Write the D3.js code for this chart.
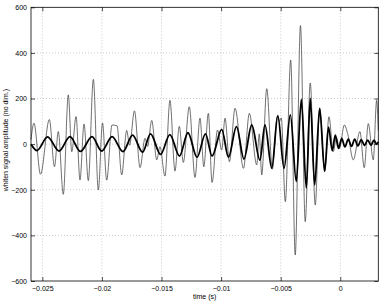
<!DOCTYPE html>
<html>
<head>
<meta charset="utf-8">
<script src="https://cdn.jsdelivr.net/npm/d3@7"></script>
<style>
  html, body { margin: 0; padding: 0; background: #fff; }
  svg text { font-family: "Liberation Sans", Arial, sans-serif; }
</style>
</head>
<body>
<div id="chart"></div>
<script>
// thin trace: whitened strain (time in s, amplitude)
var thinTime = [
  -0.02595, -0.02570, -0.02515, -0.02441, -0.02398, -0.02366, -0.02324, -0.02282, -0.02253, -0.02217,
  -0.02184, -0.02150, -0.02114, -0.02072, -0.02030, -0.01995, -0.01960, -0.01915, -0.01873, -0.01834,
  -0.01792, -0.01768, -0.01727, -0.01680, -0.01638, -0.01617, -0.01582, -0.01540, -0.01513, -0.01471,
  -0.01429, -0.01387, -0.01351, -0.01317, -0.01267, -0.01219, -0.01177, -0.01145, -0.01107, -0.01076,
  -0.01030, -0.00995, -0.00967, -0.00930, -0.00883, -0.00812, -0.00763, -0.00701, -0.00680, -0.00659,
  -0.00617, -0.00570, -0.00529, -0.00510, -0.00495, -0.00461, -0.00416, -0.00378, -0.00334, -0.00294,
  -0.00252, -0.00210, -0.00173, -0.00131, -0.00095, -0.00059, -0.00032, -0.00007, 0.00034, 0.00065,
  0.00109, 0.00165, 0.00201, 0.00235, 0.00277, 0.00305, 0.00319
];
var thinValue = [
  20, 92, -132, 108, -99, 55, -220, 216, -33, 121,
  -157, 88, -160, 284, -201, 93, -158, 84, 80, -135,
  60, -5, 146, -103, 26, -10, 104, -69, -11, -140,
  192, -118, 78, -80, 164, -146, 114, -99, 135, -168,
  62, -26, 114, -77, 157, -106, 135, -91, 45, -135,
  243, -110, 121, 100, 115, -252, 369, -486, 520, -340,
  268, -267, 157, -120, 120, -33, 30, -20, 84, 40,
  -69, 55, -103, 90, -69, 192, 60
];

// thick trace: reconstructed waveform
var thickTime = [
  -0.02595, -0.02544, -0.02456, -0.02360, -0.02268, -0.02180, -0.02083, -0.02002, -0.01915, -0.01823,
  -0.01743, -0.01659, -0.01592, -0.01508, -0.01430, -0.01349, -0.01278, -0.01202, -0.01131, -0.01076,
  -0.00995, -0.00938, -0.00871, -0.00808, -0.00743, -0.00674, -0.00632, -0.00575, -0.00524, -0.00472,
  -0.00419, -0.00369, -0.00327, -0.00285, -0.00252, -0.00215, -0.00173, -0.00131, -0.00099, -0.00067,
  -0.00042, -0.00015, 0.00012, 0.00039, 0.00067, 0.00094, 0.00121, 0.00148, 0.00176, 0.00203,
  0.00230, 0.00258, 0.00283, 0.00305, 0.00319
];
var thickValue = [
  0, -28, 32, -30, 33, -32, 33, -30, 33, -33,
  40, -35, 45, -45, 42, -52, 50, -58, 45, -52,
  65, -57, 77, -65, 84, -70, 84, -105, 125, -106,
  128, -164, 196, -193, 201, -179, 157, -118, 75, -28,
  40, -18, 25, -12, 22, -10, 22, -8, 20, -6,
  18, -5, 18, 0, 10
];

var xTicks = [-0.025, -0.02, -0.015, -0.01, -0.005, 0];
var xTickLabels = ["\u22120.025", "\u22120.02", "\u22120.015", "\u22120.01", "\u22120.005", "0"];
var yTicks = [-600, -400, -200, 0, 200, 400, 600];

const width = 382,
  height = 302,
  margin = { top: 7.3, right: 3.7, bottom: 21, left: 31 };

const innerW = width - margin.left - margin.right,
  innerH = height - margin.top - margin.bottom;

const x = d3.scaleLinear().domain([-0.02595, 0.00319]).range([0, innerW]);
const y = d3.scaleLinear().domain([-600, 600]).range([innerH, 0]);

const svg = d3
  .select("#chart")
  .append("svg")
  .attr("width", width)
  .attr("height", height);

const g = svg
  .append("g")
  .attr("transform", `translate(${margin.left},${margin.top})`);

// dotted grid
g.append("g")
  .selectAll("line")
  .data(xTicks)
  .join("line")
  .attr("x1", (d) => x(d))
  .attr("x2", (d) => x(d))
  .attr("y1", 0)
  .attr("y2", innerH)
  .style("stroke", "#a8a8a8")
  .style("stroke-width", 0.6)
  .style("stroke-dasharray", "1,2");

g.append("g")
  .selectAll("line")
  .data(yTicks.slice(1, -1))
  .join("line")
  .attr("x1", 0)
  .attr("x2", innerW)
  .attr("y1", (d) => y(d))
  .attr("y2", (d) => y(d))
  .style("stroke", "#a8a8a8")
  .style("stroke-width", 0.6)
  .style("stroke-dasharray", "1,2");

// traces
const line = d3
  .line()
  .x((d) => x(d[0]))
  .y((d) => y(d[1]))
  .curve(d3.curveMonotoneX);

g.append("path")
  .datum(d3.zip(thinTime, thinValue))
  .attr("d", line)
  .style("fill", "none")
  .style("stroke", "#333")
  .style("stroke-width", 0.7);

g.append("path")
  .datum(d3.zip(thickTime, thickValue))
  .attr("d", line)
  .style("fill", "none")
  .style("stroke", "#000")
  .style("stroke-width", 1.8);

// axes, MATLAB-like box with inward ticks
const tickLen = 4;
const styleAxis = (sel) => {
  sel.select(".domain").remove();
  sel.selectAll(".tick line").style("stroke", "#000").style("stroke-width", 0.7);
  sel.selectAll("text")
    .style("font-size", "7px")
    .style("fill", "#000");
};

g.append("g")
  .attr("transform", `translate(0,${innerH})`)
  .call(
    d3.axisBottom(x)
      .tickValues(xTicks)
      .tickSize(-tickLen)
      .tickPadding(5)
      .tickFormat((d, i) => xTickLabels[i])
  )
  .call(styleAxis);

g.append("g")
  .call(
    d3.axisTop(x).tickValues(xTicks).tickSize(-tickLen).tickFormat("")
  )
  .call(styleAxis);

g.append("g")
  .call(
    d3.axisLeft(y)
      .tickValues(yTicks)
      .tickSize(-tickLen)
      .tickPadding(4)
      .tickFormat((d) => String(d).replace("-", "\u2212"))
  )
  .call(styleAxis);

g.append("g")
  .attr("transform", `translate(${innerW},0)`)
  .call(
    d3.axisRight(y).tickValues(yTicks).tickSize(-tickLen).tickFormat("")
  )
  .call(styleAxis);

g.append("rect")
  .attr("width", innerW)
  .attr("height", innerH)
  .style("fill", "none")
  .style("stroke", "#000")
  .style("stroke-width", 0.8);

// labels
svg.append("text")
  .attr("x", margin.left + innerW / 2)
  .attr("y", height - 3)
  .attr("text-anchor", "middle")
  .style("font-size", "7px")
  .text("time (s)");

svg.append("text")
  .attr("transform", `translate(8,${margin.top + innerH / 2 - 4}) rotate(-90)`)
  .attr("text-anchor", "middle")
  .style("font-size", "7px")
  .text("whiten signal amplitude (no dim.)");
</script>
</body>
</html>
